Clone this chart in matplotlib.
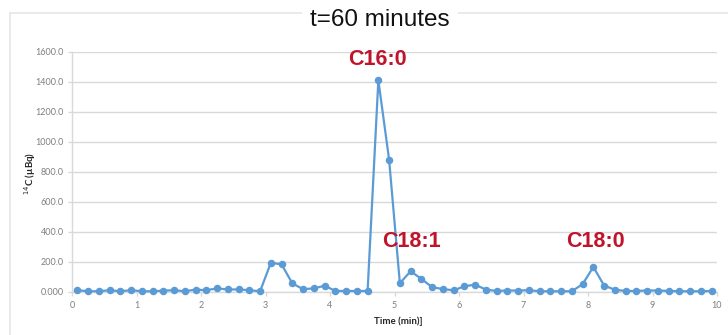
import matplotlib
matplotlib.use("Agg")
import matplotlib.pyplot as plt
from matplotlib.lines import Line2D

# ---- data ----
time_min = [0.083 + k / 6 for k in range(60)]
activity = [10, 3, 3, 10, 3, 10, 3, 3, 7, 10,
            3, 14, 10, 22, 15, 15, 10, 3, 193, 182,
            55, 17, 22, 40, 5, 5, 5, 5, 1410, 880,
            57, 136, 86, 30, 18, 9, 36, 47, 14, 5,
            8, 8, 10, 3, 3, 3, 3, 50, 165, 41,
            13, 5, 5, 8, 8, 5, 3, 3, 3, 5]
y_ticks = [0, 200, 400, 600, 800, 1000, 1200, 1400, 1600]
y_tick_labels = ["0.000", "200.0", "400.0", "600.0", "800.0", "1000.0",
                 "1200.0", "1400.0", "1600.0"]
x_ticks = list(range(0, 11))
peak_labels = ["C16:0", "C18:1", "C18:0"]
peak_label_x = [4.74, 5.26, 8.12]
peak_label_y = [1545, 335, 335]
title = "t=60 minutes"
x_label = "Time (min)]"
y_label = "$^{14}$C (µBq)"

W, H = 728, 335
fig = plt.figure(figsize=(W / 100, H / 100), dpi=100)
fig.patch.set_facecolor("white")

# outer frame lines (light gray)
frame_col = "#e6e6e6"
fig.add_artist(Line2D([10 / W, 1.0], [1 - 13 / H, 1 - 13 / H], color=frame_col, lw=1.2,
                      transform=fig.transFigure))
fig.add_artist(Line2D([10 / W, 10 / W], [0, 1 - 13 / H], color=frame_col, lw=1.2,
                      transform=fig.transFigure))

ax = fig.add_axes([72 / W, 43.3 / H, 645 / W, 240 / H])
ax.plot(time_min, activity, color="#5b9bd5", lw=1.6, marker="o", ms=4.4,
        markerfacecolor="#5b9bd5", markeredgecolor="#5b9bd5", zorder=3, clip_on=False)

ax.set_xlim(0, 10)
ax.set_ylim(0, 1600)
ax.set_yticks(y_ticks)
ax.set_yticklabels(y_tick_labels)
ax.set_xticks(x_ticks)
ax.set_xticklabels([str(v) for v in x_ticks])

grid_col = "#d9d9d9"
ax.grid(axis="y", color=grid_col, lw=1.0)
ax.set_axisbelow(True)
for s in ["top", "right"]:
    ax.spines[s].set_visible(False)
for s in ["left", "bottom"]:
    ax.spines[s].set_color(grid_col)
    ax.spines[s].set_linewidth(1.0)
ax.tick_params(axis="both", colors=grid_col, length=3, width=1.0,
               labelcolor="#7f7f7f", labelsize=6.5)
ax.tick_params(axis="y", pad=3)
ax.tick_params(axis="x", pad=4)
for lab in ax.get_xticklabels() + ax.get_yticklabels():
    lab.set_family("Lato")

ax.set_xlabel(x_label, fontsize=7, fontweight="bold", family="Lato", color="#262626")
ax.xaxis.set_label_coords((398 - 72) / 645, -(316 - 291.7) / 240)
ax.set_ylabel(y_label, fontsize=7, fontweight="bold", family="Lato", color="#262626")
ax.yaxis.set_label_coords((38 - 72) / 645, (291.7 - 173) / 240)

for txt, xx, yy in zip(peak_labels, peak_label_x, peak_label_y):
    ax.text(xx, yy, txt, color="#c0142b", fontsize=15.5, fontweight="bold",
            family="Liberation Sans", ha="center", va="center", zorder=5)

# title with white box covering the frame line
fig.text(380 / W, 1 - 20 / H, title, fontsize=17.5, family="Liberation Sans",
         ha="center", va="center", color="#111111",
         bbox=dict(facecolor="white", edgecolor="none", pad=6))

fig.savefig("out.png", dpi=100, facecolor="white")
